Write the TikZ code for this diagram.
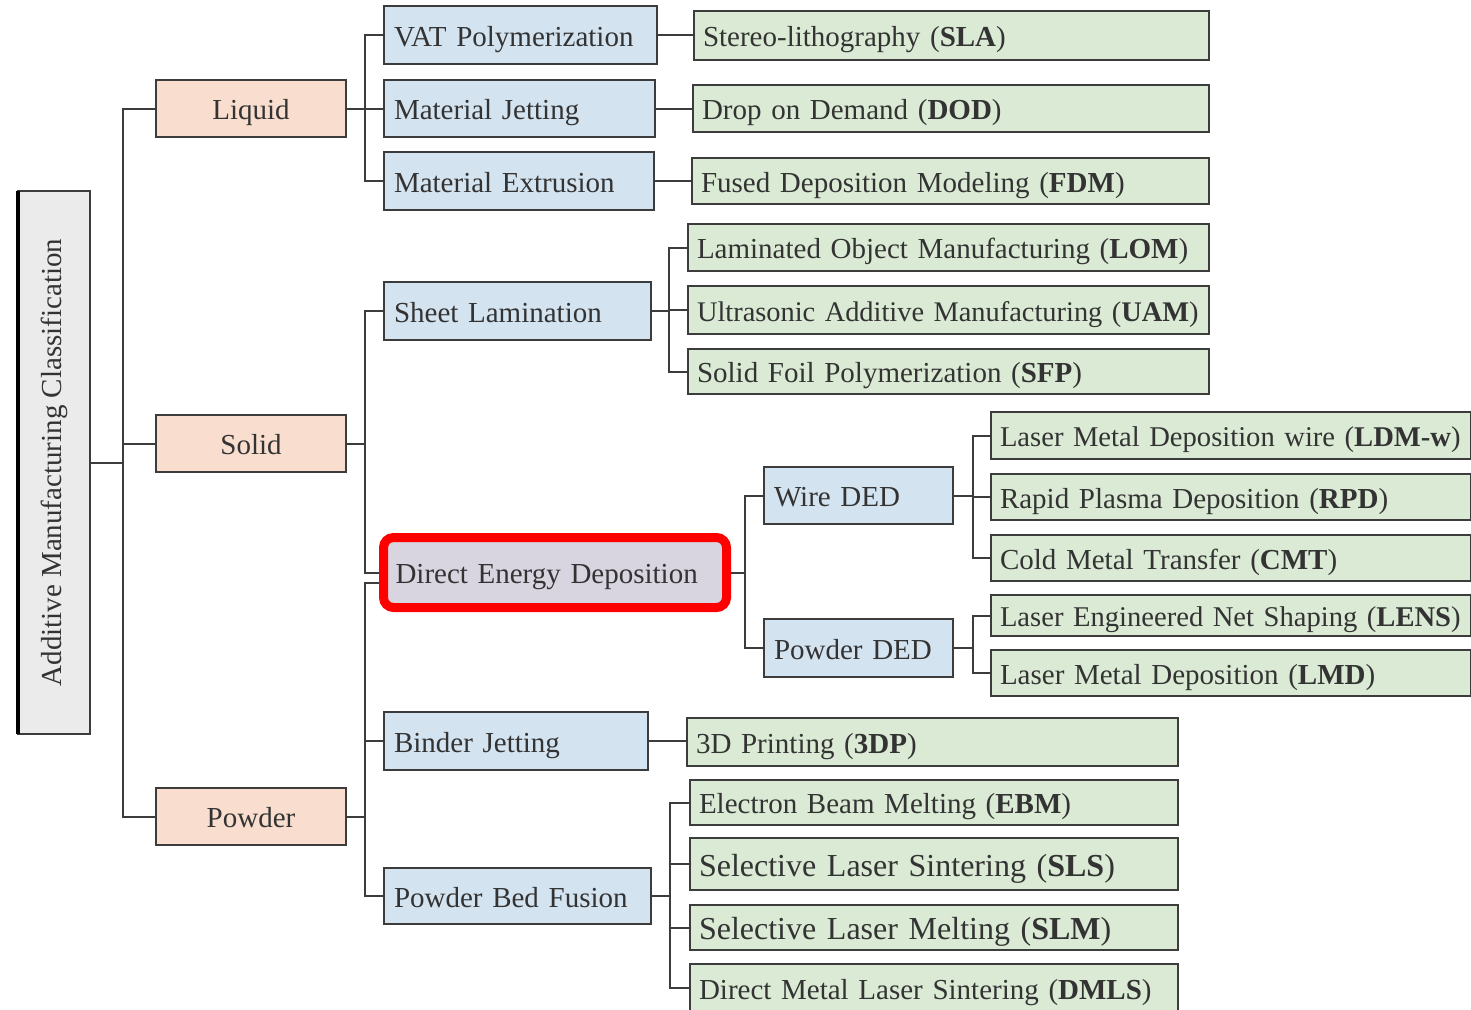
\documentclass[tikz,border=0pt]{standalone}
\usepackage{fontspec}
\usepackage{graphicx}
\setmainfont{Liberation Serif}
\usetikzlibrary{
    calc,
    backgrounds
}
\tikzset{
  every node/.style={
    inner ysep=0pt,
    inner xsep=5pt,
    text=black!80,
    font=\fontsize{14.5}{17}\selectfont
  },
  box/.style={
    draw=linegray,
    line width=1pt,
    outer sep=0pt,
    anchor=north west
  },
  lifted/.style={text height=12pt, text depth=1pt},
  rootbox/.style={box, anchor=center, fill=rootgray, minimum width=36pt, minimum height=271.5pt, inner sep=0pt},
  statebox/.style={box, lifted, fill=statepeach, minimum width=95pt, minimum height=28.5pt},
  procbox/.style={box, lifted, fill=procblue, align=left},
  dedbox/.style={box, lifted, fill=dedlilac, draw=red, line width=4.5pt, outer sep=2.25pt,
    rounded corners=5pt, inner xsep=6pt, align=left},
  techbox/.style={box, lifted, fill=techgreen, inner xsep=4.5pt, align=left},
  link/.style={draw=linegray, line width=1pt}
}
\newcommand\techlabel[2]{\mbox{#1 (\textbf{#2})}}

\begin{document}
\begin{tikzpicture}[x=0.5pt,y=-0.5pt]

    % colours
    \definecolor{rootgray}{RGB}{235,235,235}
    \definecolor{statepeach}{RGB}{249,222,207}
    \definecolor{procblue}{RGB}{211,227,240}
    \definecolor{techgreen}{RGB}{218,234,212}
    \definecolor{dedlilac}{RGB}{216,213,225}
    \definecolor{linegray}{RGB}{60,60,60}

    \useasboundingbox (0,0) rectangle (1471,1009);

    % root
    \node[rootbox] (root) at (54,462.5) {\rotatebox{90}{Additive Manufacturing Classification}};
    \draw[black,line width=2pt] (root.north west) -- (root.south west);

    % states
    \node[statebox] (liquid) at (156,80)  {Liquid};
    \node[statebox] (solid)  at (156,415) {Solid};
    \node[statebox] (powder) at (156,788) {Powder};

    % processes
    \foreach \nm/\xx/\yy/\ww/\hh/\txt in {
        vat/384/6/126.5/29/VAT Polymerization,
        jet/384/80/125.5/28.5/Material Jetting,
        extr/384/152/125/29/Material Extrusion,
        sheet/384/282/123.5/29/Sheet Lamination,
        binder/384/712/122/29/Binder Jetting,
        pbf/384/868/123.5/28/Powder Bed Fusion,
        wire/764/467/84.5/28.5/Wire DED,
        pded/764/619/84.5/29/Powder DED} {
        \node[procbox, text width=\ww pt, minimum height=\hh pt] (\nm) at (\xx,\yy) {\txt};
    }
    \node[dedbox, text width=159.5pt, minimum height=35pt] (ded) at (379,533) {Direct Energy Deposition};

    % technologies
    \foreach \nm/\xx/\yy/\ww/\hh/\fs/\th/\txt/\ab in {
        sla/694/11/248.5/24.5/14.5/12/Stereo-lithography/SLA,
        dod/693/85/249/23.5/14.5/12/Drop on Demand/DOD,
        fdm/692/158/249.5/23/14.5/12/Fused Deposition Modeling/FDM,
        lom/688/224/251.5/23.5/14.5/12/Laminated Object Manufacturing/LOM,
        uam/688/286/251.5/24/14.2/12/Ultrasonic Additive Manufacturing/UAM,
        sfp/688/349/251.5/22.5/14.5/12/Solid Foil Polymerization/SFP,
        ldmw/991/412/231/23.5/14.3/12/Laser Metal Deposition wire/LDM-w,
        rpd/991/474/231/23/14.5/12/Rapid Plasma Deposition/RPD,
        cmt/991/535/231/23/14.5/12/Cold Metal Transfer/CMT,
        lens/991/595/231/20.5/14.3/12/Laser Engineered Net Shaping/LENS,
        lmd/991/650/231/23/14.5/12/Laser Metal Deposition/LMD,
        tdp/687/718/236.5/24/14.5/12/3D Printing/3DP,
        ebm/690/780/235/22.5/14.5/12/Electron Beam Melting/EBM,
        sls/690/838/235/26/16/13/Selective Laser Sintering/SLS,
        slm/690/905/235/22.5/16/13/Selective Laser Melting/SLM,
        dmls/690/964/235/24/14.5/12/Direct Metal Laser Sintering/DMLS} {
        \node[techbox, text width=\ww pt, minimum height=\hh pt, text height=\th pt,
              font=\fontsize{\fs}{18}\selectfont] (\nm) at (\xx,\yy) {\techlabel{\txt}{\ab}};
    }

    % connectors
    \begin{pgfonlayer}{background}
        \foreach \c in {liquid,solid,powder} {
            \draw[link] (root.east) -- ++(33,0) |- (\c.west);
        }
        \foreach \c in {vat,jet,extr} {
            \draw[link] (liquid.east) -- ++(19,0) |- (\c.west);
        }
        \foreach \c in {sheet,ded} {
            \draw[link] (solid.east) -- ++(19,0) |- (\c.west);
        }
        \draw[link] (powder.east) -- ++(19,0) |- ($(ded.west)+(0,10)$);
        \foreach \c in {binder,pbf} {
            \draw[link] (powder.east) -- ++(19,0) |- (\c.west);
        }
        \foreach \p/\c in {vat/sla,jet/dod,extr/fdm,binder/tdp} {
            \draw[link] (\p.east) -- (\c.west |- \p.east);
        }
        \foreach \c in {lom,uam,sfp} {
            \draw[link] (sheet.east) -- ++(18,0) |- (\c.west);
        }
        \foreach \c in {wire,pded} {
            \draw[link] (ded.east) -- ++(14,0) |- (\c.west);
        }
        \foreach \c in {ldmw,rpd,cmt} {
            \draw[link] (wire.east) -- ++(20,0) |- (\c.west);
        }
        \foreach \c in {lens,lmd} {
            \draw[link] (pded.east) -- ++(20,0) |- (\c.west);
        }
        \foreach \c in {ebm,sls,slm,dmls} {
            \draw[link] (pbf.east) -- ++(19,0) |- (\c.west);
        }
    \end{pgfonlayer}

\end{tikzpicture}
\end{document}
